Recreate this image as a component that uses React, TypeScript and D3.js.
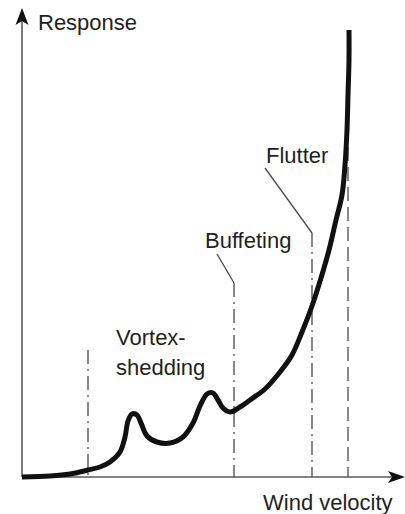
import React from "react";
import * as d3 from "d3";

// Response curve (x = wind velocity, y = response, arbitrary units)
const curveX = [0, 28, 48, 66, 78, 88, 98, 103, 106, 110, 115, 119, 125, 135, 148, 161, 171, 178, 185, 191, 196, 201, 208, 218, 228, 243, 258, 270, 280, 290, 299, 307, 314, 320, 323, 325, 326, 327, 327];
const curveY = [0, 1, 3, 7, 10, 15, 25, 40, 56, 63, 62, 54, 41, 35, 34, 40, 54, 71, 83, 84, 77, 69, 65, 70, 77, 88, 105, 122, 145, 171, 199, 227, 257, 282, 312, 347, 382, 417, 447];

// Threshold lines
const markerNames = ["Onset", "Buffeting", "Flutter", "Limit"];
const markerX = [66, 212, 290, 326];
const markerTop = [127, 194, 244, 350];

const labels = ["Vortex-", "shedding", "Buffeting", "Flutter"];

const W = 405;
const H = 514;

export default function App() {
  const x = d3.scaleLinear().domain([0, 380]).range([22, 402]);
  const y = d3.scaleLinear().domain([0, 470]).range([477, 7]);
  const pts: [number, number][] = curveX.map((v, i) => [v, curveY[i]]);
  const line = d3
    .line<[number, number]>()
    .x((d) => x(d[0]))
    .y((d) => y(d[1]))
    .curve(d3.curveCatmullRom.alpha(0.5));

  const font = "'Liberation Sans', Arial, Helvetica, sans-serif";
  const textColor = "#231f20";
  const axisColor = "#5a5a5a";
  const guideColor = "#4a4a4a";
  const x0 = x(0);
  const y0 = y(0);

  return (
    <svg
      width={W}
      height={H}
      style={{ position: "absolute", left: 0, top: 0, background: "#fff" }}
    >
      {/* guide lines */}
      {markerX.map((mx, i) => (
        <line
          key={markerNames[i]}
          x1={x(mx)}
          x2={x(mx)}
          y1={y(markerTop[i])}
          y2={y0}
          stroke={guideColor}
          strokeWidth={1.3}
          strokeDasharray={i === 3 ? "14,6" : "14,5,2,5"}
        />
      ))}
      {/* leader lines */}
      <line x1={x(212)} y1={y(194)} x2={217} y2={254} stroke={guideColor} strokeWidth={1.3} />
      <line x1={x(290)} y1={y(244)} x2={265} y2={168} stroke={guideColor} strokeWidth={1.3} />

      {/* axes */}
      <line x1={x0} y1={y0} x2={397} y2={y0} stroke={axisColor} strokeWidth={1.6} />
      <line x1={x0} y1={y0} x2={x0} y2={16} stroke={axisColor} strokeWidth={1.6} />
      <path d={`M${x0},8 L${x0 + 6.5},25 L${x0},21 L${x0 - 6.5},25 Z`} fill="#111" />
      <path d={`M405,${y0} L388,${y0 - 6} L392,${y0} L388,${y0 + 6} Z`} fill="#111" />

      {/* response curve */}
      <path d={line(pts) || ""} fill="none" stroke="#111" strokeWidth={5} strokeLinecap="butt" strokeLinejoin="round" />

      {/* labels */}
      <g fontFamily={font} fontSize={22} fill={textColor}>
        <text x={38} y={30}>Response</text>
        <text x={263} y={510}>Wind velocity</text>
        <text x={116} y={345}>{labels[0]}</text>
        <text x={116} y={375}>{labels[1]}</text>
        <text x={205} y={248}>{labels[2]}</text>
        <text x={266} y={163}>{labels[3]}</text>
      </g>
    </svg>
  );
}
